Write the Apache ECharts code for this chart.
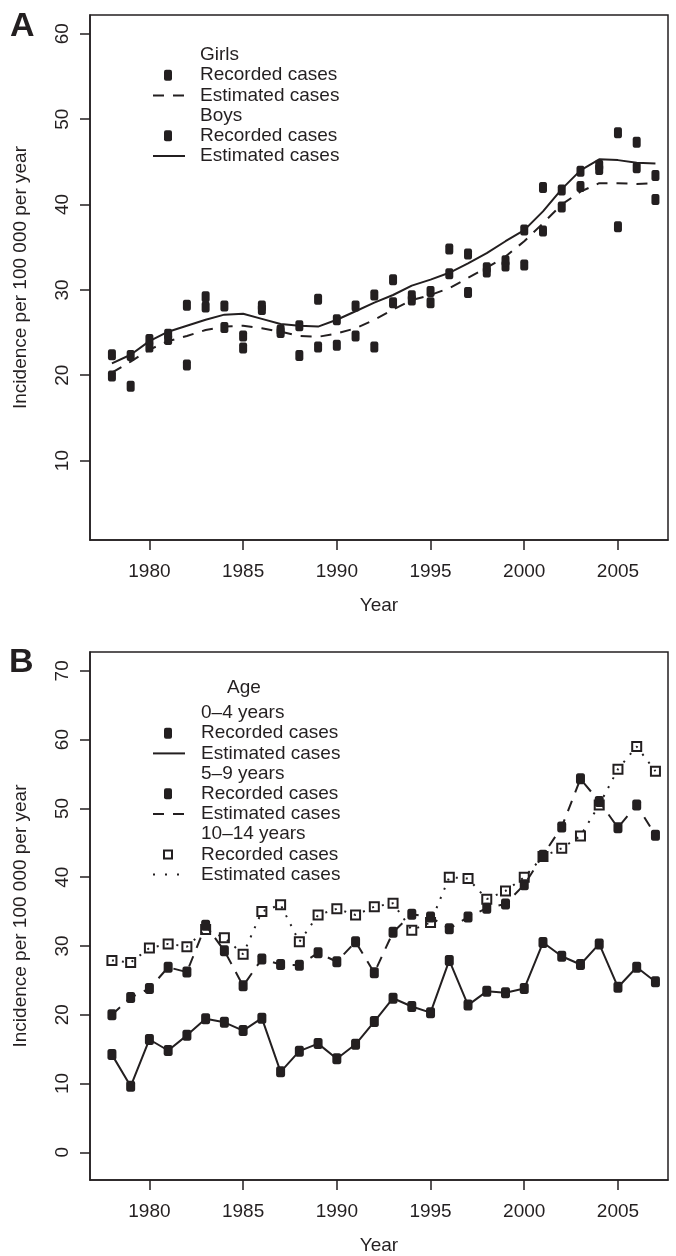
<!DOCTYPE html>
<html>
<head>
<meta charset="utf-8">
<script src="https://cdn.jsdelivr.net/npm/echarts@6/dist/echarts.min.js"></script>
<style>
html,body{margin:0;padding:0;background:#fff;}
#chart{width:676px;height:1256px;}
</style>
</head>
<body>
<div id="chart"></div>
<script>
// ---- data ----
const years = [1978,1979,1980,1981,1982,1983,1984,1985,1986,1987,1988,1989,1990,1991,1992,1993,1994,1995,1996,1997,1998,1999,2000,2001,2002,2003,2004,2005,2006,2007];
const xTicks = [1980,1985,1990,1995,2000,2005];
const yTicksA = [10,20,30,40,50,60];
const yTicksB = [0,10,20,30,40,50,60,70];

// Panel A
const girlsRecorded = [19.9,18.7,23.3,24.2,21.2,28.0,25.6,23.2,27.7,25.0,22.3,23.3,23.5,24.6,23.3,28.5,28.8,28.5,31.9,29.7,32.1,32.8,32.9,36.9,39.7,42.1,44.1,37.4,44.3,40.6];
const boysRecorded  = [22.4,22.3,24.2,24.8,28.2,29.2,28.1,24.6,28.1,25.3,25.8,28.9,26.5,28.1,29.4,31.2,29.3,29.8,34.8,34.2,32.6,33.4,37.0,42.0,41.7,43.9,44.6,48.4,47.3,43.4];
const girlsEstimated = [20.3,21.6,23.0,24.0,24.6,25.3,25.7,25.8,25.5,25.1,24.6,24.5,24.9,25.5,26.5,27.7,28.8,29.4,30.2,31.4,32.6,33.9,35.7,37.8,40.0,41.5,42.5,42.5,42.4,42.5];
const boysEstimated  = [21.4,22.4,24.0,25.1,25.8,26.5,27.1,27.2,26.6,26.0,25.8,25.7,26.5,27.5,28.5,29.4,30.5,31.2,32.0,33.1,34.3,35.7,37.0,39.2,41.8,44.0,45.3,45.2,44.9,44.8];

// Panel B
const age0to4   = [14.2,9.6,16.4,14.8,17.0,19.4,18.9,17.7,19.5,11.7,14.7,15.8,13.6,15.7,19.0,22.4,21.2,20.3,27.9,21.4,23.4,23.2,23.8,30.5,28.5,27.3,30.3,24.0,26.9,24.8];
const age5to9   = [20.0,22.5,23.8,26.9,26.2,33.0,29.3,24.2,28.1,27.3,27.2,29.0,27.7,30.6,26.1,32.0,34.6,34.2,32.5,34.2,35.5,36.1,38.9,43.2,47.3,54.3,51.0,47.2,50.5,46.1];
const age10to14 = [27.9,27.6,29.7,30.3,29.9,32.4,31.2,28.8,35.0,36.0,30.6,34.5,35.4,34.5,35.7,36.2,32.3,33.4,40.0,39.8,36.8,38.0,40.0,43.0,44.2,46.0,50.5,55.7,59.0,55.4];

const legendA = [
  {text:'Girls', mark:null},
  {text:'Recorded cases', mark:'filled'},
  {text:'Estimated cases', mark:'dashed'},
  {text:'Boys', mark:null},
  {text:'Recorded cases', mark:'filled'},
  {text:'Estimated cases', mark:'solid'}
];
const legendB = [
  {text:'0\u20134 years', mark:null},
  {text:'Recorded cases', mark:'filled'},
  {text:'Estimated cases', mark:'solid'},
  {text:'5\u20139 years', mark:null},
  {text:'Recorded cases', mark:'filled'},
  {text:'Estimated cases', mark:'dashed'},
  {text:'10\u201314 years', mark:null},
  {text:'Recorded cases', mark:'open'},
  {text:'Estimated cases', mark:'dotted'}
];

// ---- styling ----
const INK = '#231f20';
const FONT = '"Liberation Sans", Arial, Helvetica, sans-serif';
const pair = (ys) => years.map((y,i)=>[y, ys[i]]);
const DASH = [11,9];
const DOT = [2,8];

function xAxisCfg(gi){
  return {
    type:'value', gridIndex:gi, min:1976.83, max:2007.67,
    name:'Year', nameLocation:'middle', nameGap:56,
    nameTextStyle:{color:INK, fontSize:19, fontFamily:FONT},
    splitLine:{show:false},
    axisLine:{show:true, onZero:false, lineStyle:{color:INK, width:1.5}},
    axisTick:{show:true, length:10, customValues:xTicks, lineStyle:{color:INK, width:1.5}},
    axisLabel:{customValues:xTicks, margin:22, color:INK, fontSize:19, fontFamily:FONT, formatter:v=>String(v)}
  };
}
function yAxisCfg(gi, min, max, ticks){
  return {
    type:'value', gridIndex:gi, min:min, max:max,
    name:'Incidence per 100 000 per year', nameLocation:'middle', nameGap:60,
    nameRotate:90,
    nameTextStyle:{color:INK, fontSize:19, fontFamily:FONT},
    splitLine:{show:false},
    axisLine:{show:true, onZero:false, lineStyle:{color:INK, width:1.5}},
    axisTick:{show:true, length:10, customValues:ticks, lineStyle:{color:INK, width:1.5}},
    axisLabel:{customValues:ticks, rotate:90, margin:18, color:INK, fontSize:19, fontFamily:FONT, formatter:v=>String(v)}
  };
}

function legendGraphics(rows, x0Text, xSym, y0, dy, title){
  const g = [];
  if (title) {
    g.push({type:'text', style:{text:title.text, x:title.x, y:title.y, fill:INK, font:'19px '+FONT, align:'left', verticalAlign:'middle'}});
  }
  rows.forEach((r,i)=>{
    const y = y0 + i*dy;
    g.push({type:'text', style:{text:r.text, x:x0Text, y:y, fill:INK, font:'19px '+FONT, align:'left', verticalAlign:'middle'}});
    if (r.mark==='filled') {
      g.push({type:'rect', shape:{x:xSym-4, y:y-5.5, width:8, height:11, r:2}, style:{fill:INK}});
    } else if (r.mark==='open') {
      g.push({type:'rect', shape:{x:xSym-4, y:y-4, width:8, height:8}, style:{fill:'none', stroke:INK, lineWidth:2}});
    } else if (r.mark==='solid') {
      g.push({type:'line', shape:{x1:xSym-15, y1:y, x2:xSym+17, y2:y}, style:{stroke:INK, lineWidth:2}});
    } else if (r.mark==='dashed') {
      g.push({type:'line', shape:{x1:xSym-15, y1:y, x2:xSym+17, y2:y}, style:{stroke:INK, lineWidth:2, lineDash:[11,9]}});
    } else if (r.mark==='dotted') {
      g.push({type:'line', shape:{x1:xSym-15, y1:y, x2:xSym+17, y2:y}, style:{stroke:INK, lineWidth:2, lineDash:[2,10]}});
    }
  });
  return g;
}

const graphics = []
  .concat([
    {type:'text', style:{text:'A', x:10, y:27, fill:INK, font:'bold 34px '+FONT, align:'left', verticalAlign:'middle'}},
    {type:'text', style:{text:'B', x:9, y:663, fill:INK, font:'bold 34px '+FONT, align:'left', verticalAlign:'middle'}}
  ])
  .concat(legendGraphics(legendA, 200, 168, 55, 20.2, null))
  .concat(legendGraphics(legendB, 201, 168, 713, 20.2, {text:'Age', x:227, y:688}));

const chart = echarts.init(document.getElementById('chart'), null, {renderer:'canvas'});
chart.setOption({
  animation:false,
  backgroundColor:'#fff',
  textStyle:{fontFamily:FONT},
  grid:[
    {left:90, top:15, right:8, height:525, show:true, borderColor:INK, borderWidth:1.5, backgroundColor:'transparent'},
    {left:90, top:652, right:8, height:533, show:true, borderColor:INK, borderWidth:1.5, backgroundColor:'transparent'}
  ],
  xAxis:[xAxisCfg(0), xAxisCfg(1)],
  yAxis:[yAxisCfg(0, 0.7, 62.2, yTicksA), yAxisCfg(1, -4.03, 72.74, yTicksB)],
  graphic: graphics,
  series:[
    {name:'Girls recorded', type:'scatter', xAxisIndex:0, yAxisIndex:0, data:pair(girlsRecorded), symbol:'roundRect', symbolSize:[8,11], itemStyle:{color:INK, opacity:1}},
    {name:'Boys recorded', type:'scatter', xAxisIndex:0, yAxisIndex:0, data:pair(boysRecorded), symbol:'roundRect', symbolSize:[8,11], itemStyle:{color:INK, opacity:1}},
    {name:'Girls estimated', type:'line', xAxisIndex:0, yAxisIndex:0, data:pair(girlsEstimated), symbol:'none', lineStyle:{color:INK, width:2, type:DASH}},
    {name:'Boys estimated', type:'line', xAxisIndex:0, yAxisIndex:0, data:pair(boysEstimated), symbol:'none', lineStyle:{color:INK, width:2}},

    {name:'0-4', type:'line', xAxisIndex:1, yAxisIndex:1, data:pair(age0to4), symbol:'roundRect', symbolSize:[9,11], showAllSymbol:true, itemStyle:{color:INK, opacity:1}, lineStyle:{color:INK, width:2}},
    {name:'5-9', type:'line', xAxisIndex:1, yAxisIndex:1, data:pair(age5to9), symbol:'roundRect', symbolSize:[9,11], showAllSymbol:true, itemStyle:{color:INK, opacity:1}, lineStyle:{color:INK, width:2, type:DASH}},
    {name:'10-14', type:'line', xAxisIndex:1, yAxisIndex:1, data:pair(age10to14), symbol:'rect', symbolSize:9, showAllSymbol:true, itemStyle:{color:'rgba(255,255,255,0)', borderColor:INK, borderWidth:2, opacity:1}, lineStyle:{color:INK, width:2, type:DOT}}
  ]
});
</script>
</body>
</html>
